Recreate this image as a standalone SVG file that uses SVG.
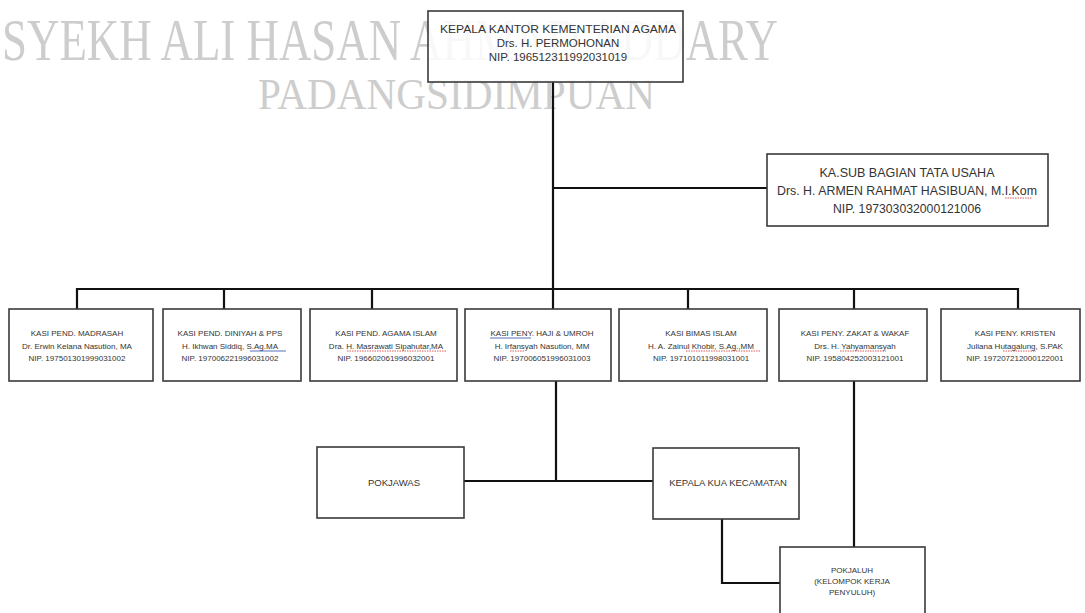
<svg xmlns="http://www.w3.org/2000/svg" width="1085" height="613" viewBox="0 0 1085 613">
<style>
.wm{font-family:"Liberation Serif","Times New Roman",serif;fill:#cdcdcd;}
.box{fill:#fff;stroke:#3a3a3a;stroke-width:1.6;}
.t{font-family:"Liberation Sans",Arial,sans-serif;fill:#333;text-anchor:middle;}
.s{font-size:8px;}
.m{font-size:9.5px;}
.c{stroke:#111;stroke-width:2.2;fill:none;}
.red{stroke:#d23030;stroke-width:0.8;fill:none;stroke-dasharray:1.5 1;}
.blue{stroke:#2b4fa8;stroke-width:0.8;fill:none;}
</style>
<rect width="1085" height="613" fill="#fff"/>
<g id="watermark">
<text class="wm" x="2" y="60" font-size="60" textLength="776" lengthAdjust="spacingAndGlyphs">SYEKH ALI HASAN AHMAD ADDARY</text>
<text class="wm" x="258" y="109" font-size="44" textLength="397" lengthAdjust="spacingAndGlyphs">PADANGSIDIMPUAN</text>
</g>
<g id="connectors">
<path class="c" d="M553 82 V309"/>
<path class="c" d="M553 188 H767"/>
<path class="c" d="M77 309 V289 H1018 V309"/>
<path class="c" d="M224 289 V309 M372 289 V309 M688 289 V309 M854 289 V309"/>
<path class="c" d="M556 381 V481 M464 481 H653"/>
<path class="c" d="M722 519 V583 H780"/>
<path class="c" d="M854 381 V547"/>
</g>
<g id="kepala">
<rect x="428" y="11" width="255" height="71" fill="#fff" fill-opacity="0.85" stroke="#3a3a3a" stroke-width="1.6"/>
<text class="t" x="558" y="33" font-size="11.5" textLength="236" lengthAdjust="spacingAndGlyphs">KEPALA KANTOR KEMENTERIAN AGAMA</text>
<text class="t" x="558" y="47" font-size="11.5">Drs. H. PERMOHONAN</text>
<text class="t" x="558" y="61" font-size="11.5">NIP. 196512311992031019</text>
</g>
<g id="kasubag">
<rect class="box" x="767" y="154" width="281" height="72"/>
<text class="t" x="907" y="177" font-size="13" textLength="175" lengthAdjust="spacingAndGlyphs">KA.SUB BAGIAN TATA USAHA</text>
<text class="t" x="907" y="195" font-size="13" textLength="260" lengthAdjust="spacingAndGlyphs">Drs. H. ARMEN RAHMAT HASIBUAN, M.I.Kom</text>
<text class="t" x="907" y="213" font-size="13" textLength="148" lengthAdjust="spacingAndGlyphs">NIP. 197303032000121006</text>
<path class="red" d="M1005 198 H1032"/>
</g>
<g id="madrasah">
<rect class="box" x="9" y="309" width="144" height="72"/>
<text class="t s" x="77" y="336">KASI PEND. MADRASAH</text>
<text class="t s" x="77" y="349">Dr. Erwin Kelana Nasution, MA</text>
<text class="t s" x="77" y="361">NIP. 197501301999031002</text>
</g>
<g id="diniyah">
<rect class="box" x="163" y="309" width="138" height="72"/>
<text class="t s" x="230" y="336">KASI PEND. DINIYAH &amp; PPS</text>
<text class="t s" x="230" y="349">H. Ikhwan Siddiq, S.Ag.MA</text>
<text class="t s" x="230" y="361">NIP. 197006221996031002</text>
<path class="blue" d="M250 351 H286"/>
</g>
<g id="agama">
<rect class="box" x="310" y="309" width="147" height="72"/>
<text class="t s" x="386" y="336">KASI PEND. AGAMA ISLAM</text>
<text class="t s" x="386" y="349">Dra. H. Masrawati Sipahutar,MA</text>
<text class="t s" x="386" y="361">NIP. 196602061996032001</text>
<path class="red" d="M347 351 H446"/>
</g>
<g id="haji">
<rect class="box" x="465" y="309" width="146" height="72"/>
<text class="t s" x="542" y="336">KASI PENY. HAJI &amp; UMROH</text>
<text class="t s" x="542" y="349">H. Irfansyah Nasution, MM</text>
<text class="t s" x="542" y="361">NIP. 197006051996031003</text>
<path class="blue" d="M490 338 H531"/>
<path class="red" d="M510 351 H525"/>
</g>
<g id="bimas">
<rect class="box" x="619" y="309" width="148" height="72"/>
<text class="t s" x="701" y="336">KASI BIMAS ISLAM</text>
<text class="t s" x="701" y="349">H. A. Zainul Khobir, S.Ag.,MM</text>
<text class="t s" x="701" y="361">NIP. 197101011998031001</text>
<path class="red" d="M686 351 H760"/>
</g>
<g id="zakat">
<rect class="box" x="779" y="309" width="148" height="72"/>
<text class="t s" x="855" y="336">KASI PENY. ZAKAT &amp; WAKAF</text>
<text class="t s" x="855" y="349">Drs. H. Yahyamansyah</text>
<text class="t s" x="855" y="361">NIP. 195804252003121001</text>
<path class="red" d="M840 351 H886"/>
</g>
<g id="kristen">
<rect class="box" x="941" y="309" width="139" height="72"/>
<text class="t s" x="1015" y="336">KASI PENY. KRISTEN</text>
<text class="t s" x="1015" y="349">Juliana Hutagalung, S.PAK</text>
<text class="t s" x="1015" y="361">NIP. 197207212000122001</text>
<path class="red" d="M1003 351 H1036"/>
</g>
<g id="pokjawas">
<rect class="box" x="317" y="447" width="147" height="71"/>
<text class="t m" x="394" y="486">POKJAWAS</text>
</g>
<g id="kua">
<rect class="box" x="653" y="448" width="146" height="71"/>
<text class="t m" x="728" y="486">KEPALA KUA KECAMATAN</text>
</g>
<g id="pokjaluh">
<rect class="box" x="780" y="547" width="145" height="75"/>
<text class="t s" x="852" y="573">POKJALUH</text>
<text class="t s" x="852" y="584">(KELOMPOK KERJA</text>
<text class="t s" x="852" y="595">PENYULUH)</text>
</g>
</svg>
